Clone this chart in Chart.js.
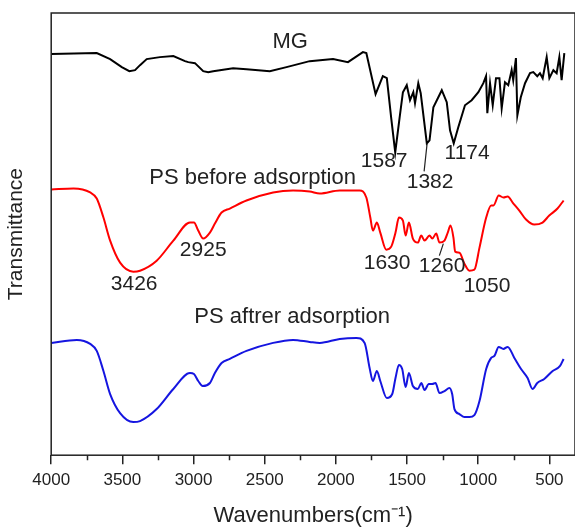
<!DOCTYPE html>
<html>
<head>
<meta charset="utf-8">
<script src="https://cdn.jsdelivr.net/npm/chart.js@4.4.1/dist/chart.umd.min.js"></script>
<style>
  html, body { margin: 0; padding: 0; background: #fff; }
  canvas { display: block; }
</style>
</head>
<body>
<canvas id="ftir" width="575" height="529"></canvas>
<script>
// spectra (wavenumber in cm-1, transmittance in arbitrary units)
const mgWn = [4000,3680,3586,3504,3451,3411,3376,3329,3236,3142,3060,3037,2990,2932,2897,2862,2815,2722,2628,2464,2347,2184,2020,1915,1810,1786,1721,1670,1642,1611,1583,1552,1529,1502,1479,1456,1444,1421,1404,1361,1342,1315,1256,1221,1198,1172,1140,1093,1046,999,964,945,936,917,898,875,851,835,812,789,765,754,735,725,701,671,636,613,585,566,547,519,500,472,449,430,414,395]
const mgT  = [400,401,395,387,383,384,389,395,397,398,393,392,391,383,382,383,384,386,385,383,387,393,395,392,402,401,360,378,376,336,302,337,362,369,354,362,351,371,361,311,314,347,364,352,324,311,327,349,354,362,371,378,341,371,349,376,376,346,372,369,384,374,396,339,357,371,381,382,378,381,376,397,376,384,381,397,374,401]

const beforeWn = [4000,3843,3726,3680,3633,3586,3516,3423,3376,3259,3142,3025,2997,2967,2932,2885,2850,2803,2745,2628,2441,2301,2184,2113,1973,1833,1786,1758,1740,1712,1688,1646,1611,1581,1557,1529,1510,1487,1459,1424,1400,1377,1342,1323,1295,1272,1237,1214,1195,1174,1162,1132,1097,1062,1027,991,944,909,893,856,823,793,758,711,664,606,548,501,443,400]
const beforeT  = [265,266,262,256,237,214,192,183,184,194,214,232,232,224,216,222,231,242,246,254,262,264,263,261,264,264,257,237,224,232,222,205,208,222,237,234,219,232,216,212,219,214,219,216,221,212,214,222,229,217,203,202,191,184,185,207,237,249,249,259,257,258,252,244,235,230,232,239,246,254]

const afterWn = [4000,3820,3726,3680,3633,3586,3516,3423,3376,3259,3142,3025,2997,2967,2936,2885,2850,2803,2745,2628,2441,2301,2184,2113,1973,1856,1798,1763,1740,1712,1688,1642,1604,1581,1557,1534,1510,1487,1459,1424,1400,1377,1347,1323,1300,1272,1237,1202,1183,1167,1132,1097,1062,1027,991,944,909,886,856,823,793,746,699,653,618,585,536,477,425,400]
const afterT  = [112,115,111,104,84,61,42,33,34,46,66,82,81,74,69,72,82,92,96,104,112,115,113,112,116,117,112,87,74,84,74,57,61,77,90,86,68,82,69,66,72,65,71,71,72,62,64,67,61,46,41,38,38,40,54,86,97,99,108,106,108,97,86,77,66,72,76,84,89,96]

const majorTicks = [4000,3500,3000,2500,2000,1500,1000,500]
const minorTicks = [3750,3250,2750,2250,1750,1250,750]

// text labels: [text, wavenumber, transmittance]
const seriesNames = [
  ['MG', 2321, 412],
  ['PS before adsorption', 2585, 277],
  ['PS aftrer adsorption', 2307, 138]
]
const peakLabels = [
  ['1587', 1661, 293],
  ['1174', 1078, 301],
  ['1382', 1338, 272],
  ['3426', 3417, 171],
  ['2925', 2932, 204],
  ['1630', 1640, 191],
  ['1260', 1254, 188],
  ['1050', 938, 169]
]
// leader lines from a band to its label: [wn1, t1, wn2, t2]
const leaders = [
  [1359, 311, 1380, 283],
  [1245, 211, 1273, 199]
]

const fontFamily = "Arial, 'Liberation Sans', sans-serif"
const ink = '#222'

function points(wn, t) {
  return wn.map((w, i) => ({x: w, y: t[i]}))
}

const extras = {
  id: 'extras',
  afterDraw(chart) {
    const {ctx, chartArea, scales} = chart
    const x = scales.x
    const y = scales.y
    ctx.save()
    // frame
    ctx.strokeStyle = ink
    ctx.lineWidth = 1.5
    ctx.strokeRect(chartArea.left, chartArea.top, chartArea.right - chartArea.left, chartArea.bottom - chartArea.top)
    // minor ticks
    ctx.beginPath()
    minorTicks.forEach(v => {
      const px = Math.round(x.getPixelForValue(v)) + 0.5
      ctx.moveTo(px, chartArea.bottom)
      ctx.lineTo(px, chartArea.bottom + 5)
    })
    ctx.stroke()
    // leader lines
    ctx.lineWidth = 1.2
    ctx.beginPath()
    leaders.forEach(l => {
      ctx.moveTo(x.getPixelForValue(l[0]), y.getPixelForValue(l[1]))
      ctx.lineTo(x.getPixelForValue(l[2]), y.getPixelForValue(l[3]))
    })
    ctx.stroke()
    // labels
    ctx.fillStyle = ink
    ctx.textAlign = 'center'
    ctx.textBaseline = 'middle'
    ctx.font = '22px ' + fontFamily
    seriesNames.forEach(s => ctx.fillText(s[0], x.getPixelForValue(s[1]), y.getPixelForValue(s[2])))
    ctx.font = '21px ' + fontFamily
    peakLabels.forEach(s => ctx.fillText(s[0], x.getPixelForValue(s[1]), y.getPixelForValue(s[2])))
    ctx.restore()
  }
}

new Chart(document.getElementById('ftir'), {
  type: 'line',
  data: {
    datasets: [
      {label: 'MG', data: points(mgWn, mgT), borderColor: '#000', borderWidth: 2, tension: 0},
      {label: 'PS before adsorption', data: points(beforeWn, beforeT), borderColor: '#f00', borderWidth: 2, cubicInterpolationMode: 'monotone'},
      {label: 'PS aftrer adsorption', data: points(afterWn, afterT), borderColor: '#1515e0', borderWidth: 2, cubicInterpolationMode: 'monotone'}
    ]
  },
  options: {
    responsive: false,
    animation: false,
    layout: {padding: {left: 0, right: 0, top: 13, bottom: 0}},
    elements: {point: {radius: 0}},
    plugins: {
      legend: {display: false},
      tooltip: {enabled: false}
    },
    scales: {
      x: {
        type: 'linear',
        reverse: true,
        min: 320,
        max: 4000,
        afterBuildTicks: scale => { scale.ticks = majorTicks.map(v => ({value: v})) },
        ticks: {
          color: ink,
          font: {family: fontFamily, size: 17},
          padding: 6,
          maxRotation: 0,
          autoSkip: false,
          callback: v => String(v)
        },
        grid: {drawOnChartArea: false, tickLength: 9, color: ink, lineWidth: 1.5},
        border: {display: false},
        title: {
          display: true,
          text: 'Wavenumbers(cm⁻¹)',
          color: ink,
          font: {family: fontFamily, size: 22},
          padding: {top: 6, bottom: 0}
        }
      },
      y: {
        min: 0,
        max: 441,
        ticks: {display: false},
        grid: {display: false, drawTicks: false},
        border: {display: false},
        title: {
          display: true,
          text: 'Transmittance',
          color: ink,
          font: {family: fontFamily, size: 21},
          padding: {top: 4, bottom: 22}
        }
      }
    }
  },
  plugins: [extras]
})
</script>
</body>
</html>
